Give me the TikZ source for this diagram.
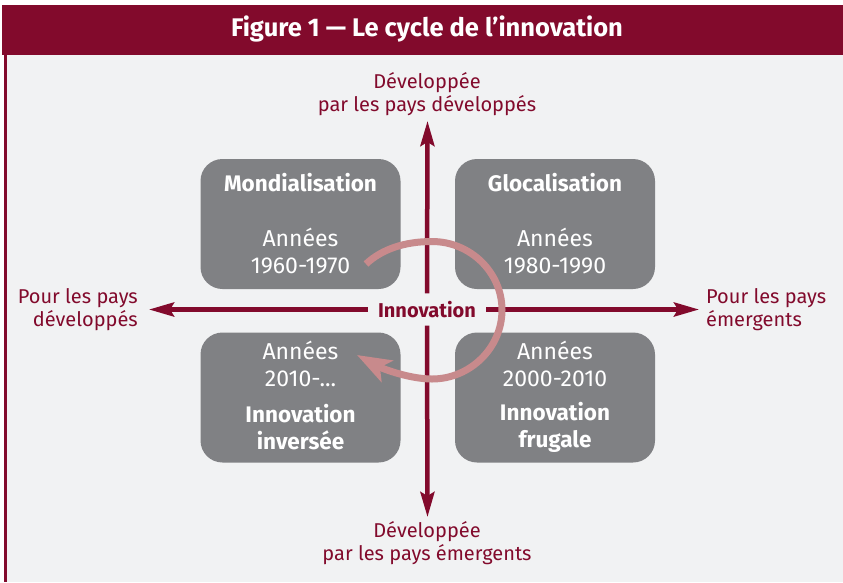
\documentclass[tikz,border=0pt]{standalone}
\usepackage{fontspec}
\setmainfont{Fira Sans}
\usetikzlibrary{arrows.meta}
\definecolor{wine}{HTML}{820A2C}
\definecolor{boxgray}{HTML}{808184}
\definecolor{bgray}{HTML}{F1F2F3}
\definecolor{pinkarc}{HTML}{C88A8C}
\begin{document}
\begin{tikzpicture}[x=1pt,y=-1pt,
  quad/.style={fill=boxgray, rounded corners=22pt, minimum width=200pt, minimum height=130pt, inner sep=0pt},
  qtitle/.style={text=white, font=\fontsize{22.5}{27}\selectfont\bfseries, align=center, inner sep=0pt},
  qtext/.style={text=white, font=\fontsize{23}{27}\selectfont, align=center, inner sep=0pt},
  axlabel/.style={text=wine, font=\fontsize{20}{23}\selectfont, inner sep=0pt},
  axis/.style={draw=wine, line width=4.5pt, -{Stealth[length=25pt,width=14pt,inset=4pt]}},
  cyc/.style={draw=pinkarc, line width=7pt, -{Stealth[length=34pt,width=24pt,inset=8pt]}}
]
\useasboundingbox (0,0) rectangle (843,582);
\fill[white] (0,0) rectangle (843,582);
\fill[bgray] (4,55) rectangle (843,582);
\fill[wine] (2,5) rectangle (843,55);
\fill[wine] (4,55) rectangle (6.5,582);
\node[text=white, font=\fontsize{25.5}{28}\selectfont\bfseries, inner sep=0pt] (title) at (427,29) {Figure 1 — Le cycle de l’innovation};

% boxes
\node[quad] (tl) at (300.5,224) {};
\node[quad] (tr) at (555,224) {};
\node[quad] (bl) at (300.5,397.5) {};
\node[quad] (br) at (555,397.5) {};

\node[qtitle] (tlt) at (300.5,183) {Mondialisation};
\node[qtext] (tly) at (300.5,251) {Années\\1960-1970};
\node[qtitle] (trt) at (555,183) {Glocalisation};
\node[qtext] (try) at (555,251) {Années\\1980-1990};
\node[qtext] (bly) at (300.5,364) {Années\\2010-...};
\node[qtitle] (blt) at (300.5,427) {Innovation\\inversée};
\node[qtext] (bry) at (555,364) {Années\\2000-2010};
\node[qtitle] (brt) at (555,427) {Innovation\\frugale};

% axes
\coordinate (top) at (427.5,121);
\coordinate (bot) at (427.5,517);
\coordinate (lft) at (149,309.5);
\coordinate (rgt) at (699,309.5);
\node[fill=bgray, minimum width=118pt, minimum height=32pt, inner sep=0pt] (inno) at (427,309.5) {};
\draw[axis] (inno.north) -- (top);
\draw[axis] (inno.south) -- (bot);
\draw[axis] (inno.west) -- (lft);
\draw[axis] (inno.east) -- (rgt);
\node[text=wine, font=\fontsize{20}{24}\selectfont\bfseries, inner sep=0pt] (innotxt) at (427,310) {Innovation};

\node[axlabel, align=center] (ltop) at (427,94.5) {Développée\\par les pays développés};
\node[axlabel, align=center] (lbot) at (427,543.5) {Développée\\par les pays émergents};
\node[axlabel, align=right, anchor=east] (llft) at (138,309.5) {Pour les pays\\développés};
\node[axlabel, align=left, anchor=west] (lrgt) at (706,309.5) {Pour les pays\\émergents};

% cycle arrow
\coordinate (cs) at (366,264);
\coordinate (ce) at (357,355);
\draw[cyc] (cs) .. controls (382,249) and (405,241.5) .. (432,241.5)
  .. controls (470,241.5) and (502,272) .. (502,310)
  .. controls (502,348) and (470,379) .. (432,379)
  .. controls (410,379) and (383,369) .. (ce);
\end{tikzpicture}
\end{document}
